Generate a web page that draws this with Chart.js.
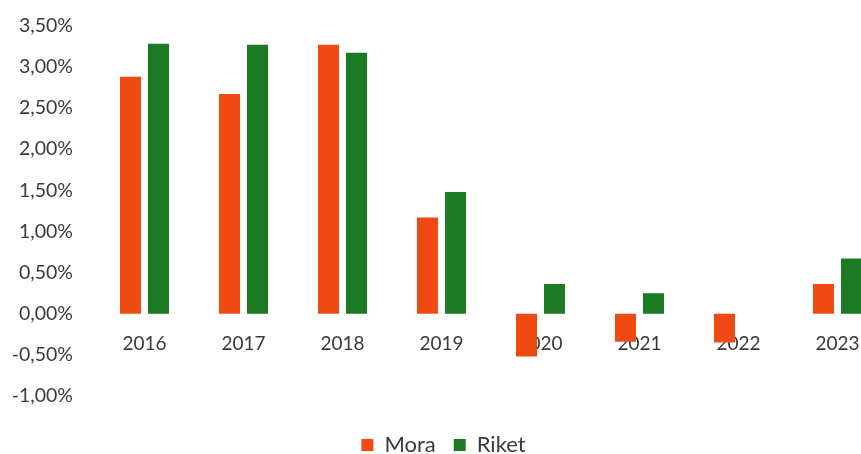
<!DOCTYPE html>
<html>
<head>
<meta charset="utf-8">
<script src="https://cdn.jsdelivr.net/npm/chart.js@4/dist/chart.umd.min.js"></script>
<style>
html,body{margin:0;padding:0;background:#fff;overflow:hidden;}
#wrap{position:relative;width:887px;height:466px;}
</style>
</head>
<body>
<div id="wrap"><canvas id="c"></canvas></div>
<script>
const categories = ['2016','2017','2018','2019','2020','2021','2022','2023'];
const moraValues = [2.88, 2.67, 3.27, 1.17, -0.52, -0.34, -0.35, 0.36];
const riketValues = [3.28, 3.27, 3.17, 1.48, 0.36, 0.25, null, 0.67];
const seriesNames = ['Mora', 'Riket'];
const yTickMin = -1.0;
const yTickMax = 3.5;
const yTickStep = 0.5;

const textColor = '#3a3a3a';
const fontFamily = 'Lato, "Open Sans", sans-serif';

new Chart(document.getElementById('c'), {
  type: 'bar',
  data: {
    labels: categories,
    datasets: [
      { label: seriesNames[0], data: moraValues, backgroundColor: '#EF4A12', borderWidth: 0,
        categoryPercentage: 0.566, barPercentage: 0.75 },
      { label: seriesNames[1], data: riketValues, backgroundColor: '#1D7A24', borderWidth: 0,
        categoryPercentage: 0.566, barPercentage: 0.75 }
    ]
  },
  options: {
    responsive: true,
    maintainAspectRatio: false,
    animation: false,
    layout: { padding: { top: 16, left: 0, right: 0, bottom: 0 } },
    plugins: {
      tooltip: { enabled: false },
      legend: {
        position: 'bottom',
        labels: {
          boxWidth: 12, boxHeight: 12, padding: 18,
          color: textColor,
          font: { family: fontFamily, size: 22 }
        }
      }
    },
    scales: {
      x: {
        position: { y: 0 },
        grid: { display: false },
        border: { display: false },
        ticks: { color: textColor, padding: 11, maxRotation: 0,
                 font: { family: fontFamily, size: 19 } }
      },
      x2: {
        position: 'bottom',
        labels: categories,
        grid: { display: false },
        border: { display: false },
        ticks: { display: false },
        afterFit: (s) => { s.height = 20; }
      },
      y: {
        min: yTickMin,
        max: yTickMax,
        grid: { display: false },
        border: { display: false },
        afterFit: (s) => { s.width = 95; },
        ticks: {
          stepSize: yTickStep,
          padding: 14,
          color: textColor,
          font: { family: fontFamily, size: 19.5 },
          callback: (v) => v.toFixed(2).replace('.', ',') + '%'
        }
      }
    }
  }
});
</script>
</body>
</html>
